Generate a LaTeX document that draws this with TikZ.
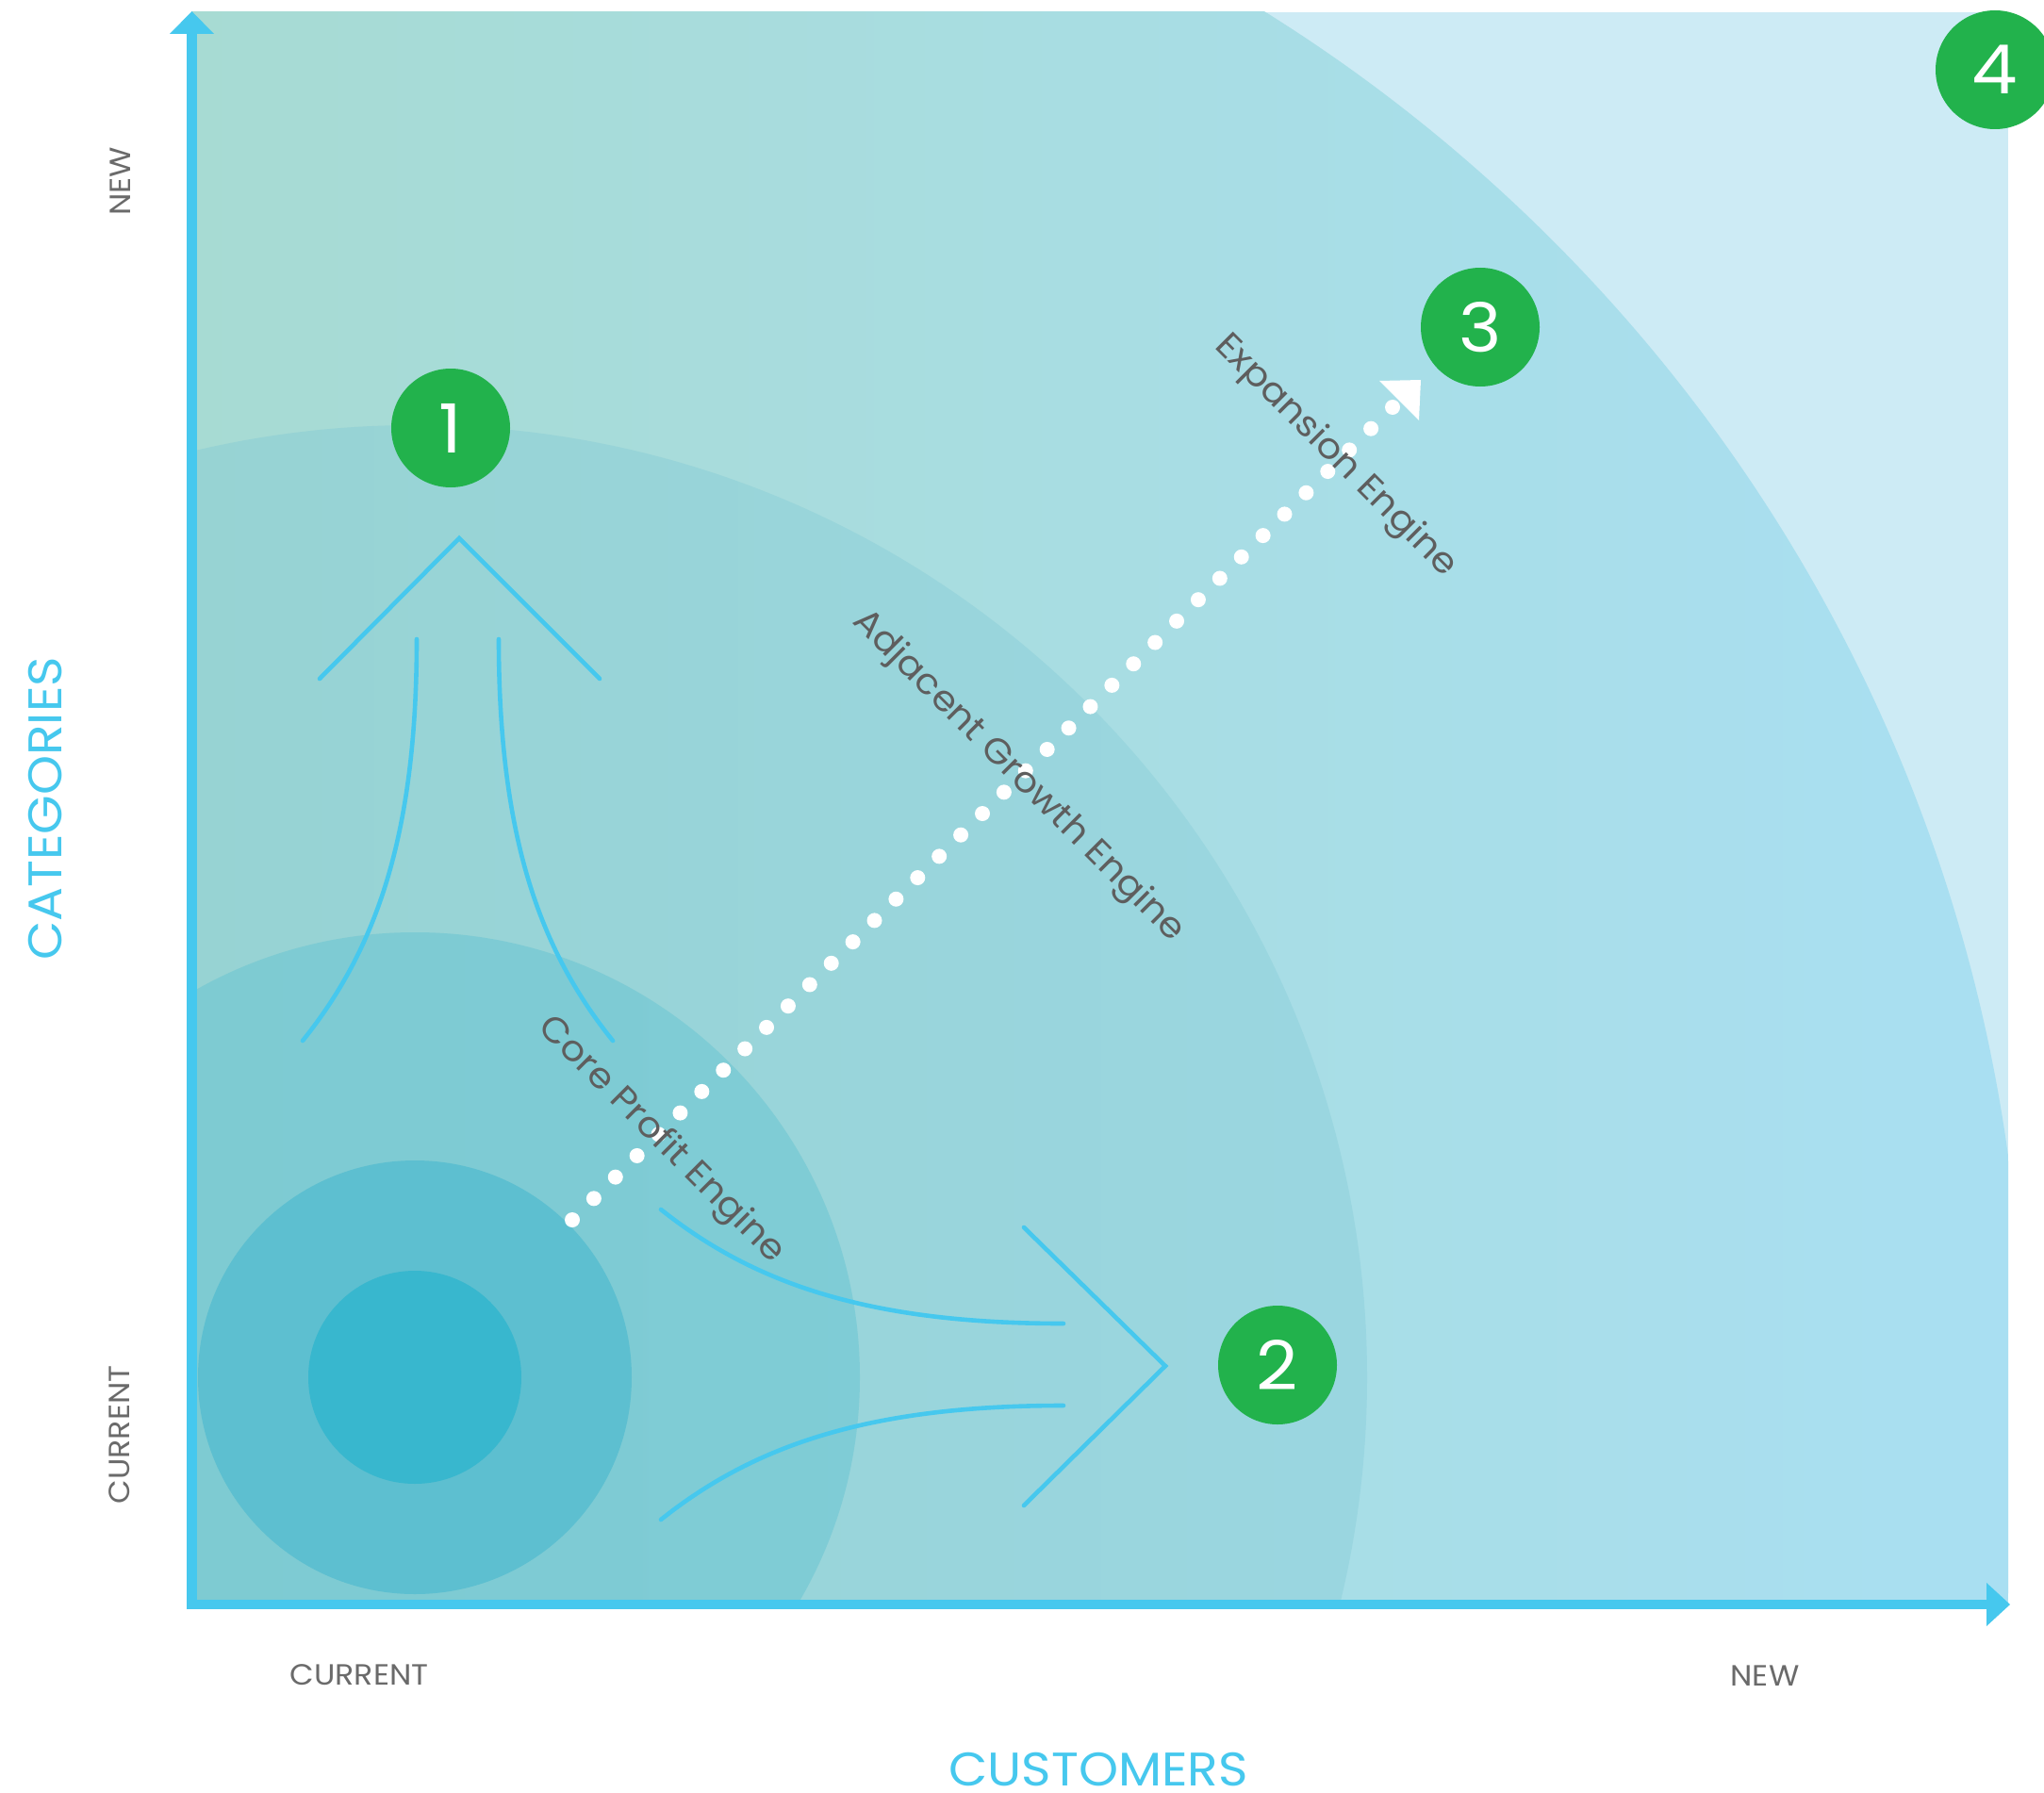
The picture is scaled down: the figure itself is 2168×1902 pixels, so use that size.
\documentclass[tikz,border=0pt]{standalone}
\usepackage{fontspec}
\setmainfont{Poppins}[FakeStretch=1.07]
\usetikzlibrary{calc}
\definecolor{axisblue}{HTML}{46C8EE}
\definecolor{greenc}{HTML}{22B24C}
\definecolor{labelgray}{HTML}{6A6A6A}
\definecolor{textgray}{HTML}{5E5E5E}
\definecolor{outerc}{HTML}{CDEBF5}
\definecolor{ringVL}{HTML}{A7DBD3}
\definecolor{ringVR}{HTML}{A9DFF2}
\definecolor{ringIVL}{HTML}{97D3D3}
\definecolor{ringIVR}{HTML}{9CD8E8}
\definecolor{ringIIIL}{HTML}{7ECBD2}
\definecolor{ringIIIR}{HTML}{80CDDC}
\definecolor{ringII}{HTML}{5DBFD0}
\definecolor{ringI}{HTML}{38B7CE}
\tikzset{
  numc/.style={circle, fill=greenc, text=white, minimum size=126pt, inner sep=0pt,
    font=\fontsize{72}{72}\selectfont},
  engine/.style={text=textgray, rotate=-45, inner sep=0pt, font=\fontsize{37.5}{40}\selectfont},
  tick/.style={text=labelgray, inner sep=0pt, font=\fontsize{31}{31}\selectfont},
  title/.style={text=axisblue, inner sep=0pt, font=\fontsize{50}{50}\selectfont},
  flow/.style={draw=axisblue, line width=4.6pt, line cap=round, line join=miter},
}
\begin{document}
\begin{tikzpicture}[x=1pt,y=-1pt]
\useasboundingbox (0,0) rectangle (2168,1902);
\fill[white] (0,0) rectangle (2168,1902);
% plotting field
\coordinate (o) at (440,1461);
\coordinate (pa) at (203,13);
\coordinate (pb) at (2130,1702);
\fill[outerc] (pa) rectangle (pb);
\begin{scope}
  \clip (pa) rectangle (pb);
  \begin{scope}
    \clip (o) circle[radius=1706];
    \shade[left color=ringVL, right color=ringVR] (pa) rectangle (pb);
  \end{scope}
  \begin{scope}
    \clip (o) circle[radius=1010];
    \shade[left color=ringIVL, right color=ringIVR] (pa) rectangle (pb);
  \end{scope}
  \begin{scope}
    \clip (o) circle[radius=472];
    \shade[left color=ringIIIL, right color=ringIIIR] (pa) rectangle (pb);
  \end{scope}
  \fill[ringII] (o) circle[radius=230];
  \fill[ringI] (o) circle[radius=113];
\end{scope}
% axes
\draw[axisblue, line width=11pt] (203.5,1707) -- (203.5,34);
\fill[axisblue] (180,36) -- (203.5,12) -- (227,36) -- cycle;
\draw[axisblue, line width=10pt] (198,1702) -- (2109,1702);
\fill[axisblue] (2107,1679) -- (2132,1702) -- (2107,1725) -- cycle;
% up flow arrow
\draw[flow] (339,720) -- (487,571) -- (636,720);
\draw[flow] (442,678) .. controls (442,884) and (400,1006) .. (321,1104);
\draw[flow] (529,678) .. controls (529,884) and (571,1006) .. (650,1104);
% right flow arrow
\draw[flow] (1086,1302) -- (1236,1449) -- (1086,1597);
\draw[flow] (1128,1404) .. controls (922,1404) and (800,1362) .. (701,1283);
\draw[flow] (1128,1491) .. controls (922,1491) and (800,1533) .. (701,1612);
% dotted diagonal
\coordinate (ds) at (607,1294);
\coordinate (de) at (1477,432);
\foreach \i in {0,...,38} \fill[white] ($(ds)!\i/38!(de)$) circle[radius=8];
\coordinate (tip) at (1507,403);
\coordinate (hb1) at (1463,404);
\coordinate (hb2) at (1505,446);
\fill[white] (tip) -- (hb1) -- (hb2) -- cycle;
% engine labels
\node[engine] (core) at (701,1210) {Core Profit Engine};
\node[engine] (adj) at (1080,824) {Adjacent Growth Engine};
\node[engine] (exp) at (1416,484) {Expansion Engine};
% numbered circles
\node[numc] (c1) at (478,454) {1};
\node[numc] (c2) at (1355,1448) {2};
\node[numc] (c3) at (1570,347) {3};
\node[numc] (c4) at (2116,74) {4};
% axis labels
\node[tick, rotate=90] (ynew) at (128,192) {NEW};
\node[tick, rotate=90] (ycur) at (127,1522) {CURRENT};
\node[tick] (xcur) at (381,1777) {CURRENT};
\node[tick] (xnew) at (1872,1778) {NEW};
\node[title, rotate=90] (ycat) at (48,858) {CATEGORIES};
\node[title] (xcust) at (1165,1877) {CUSTOMERS};
\end{tikzpicture}
\end{document}
